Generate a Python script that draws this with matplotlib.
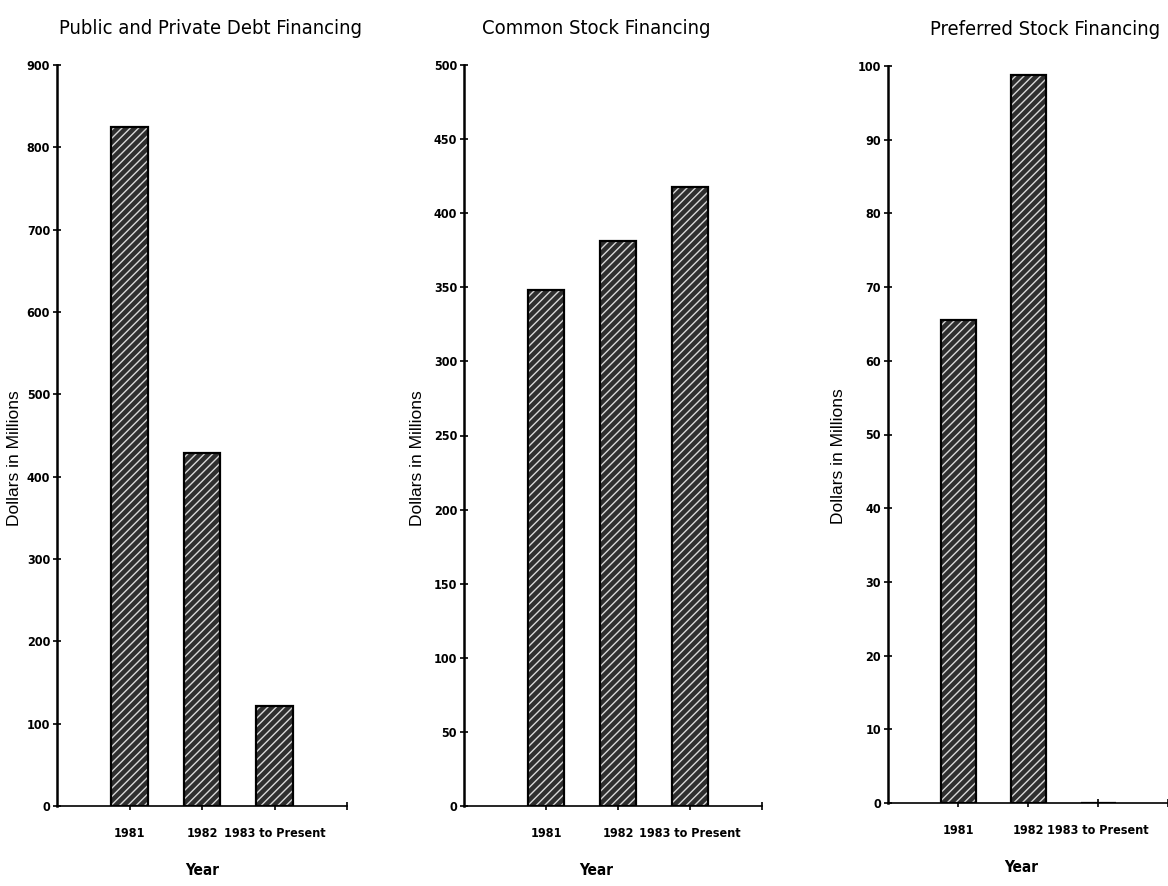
import matplotlib
matplotlib.use("Agg")
import matplotlib.pyplot as plt
from matplotlib import font_manager as fm

plt.rcParams["hatch.linewidth"] = 1.0
plt.rcParams["hatch.color"] = "#d8d8d8"

years = ["1981", "1982", "1983 to Present"]
debt = [825, 429, 122]
common = [348, 381, 418]
preferred = [65.5, 98.8, 0]

titles = ["Public and Private Debt Financing", "Common Stock Financing",
          "Preferred Stock Financing"]
series = [debt, common, preferred]
ymax = [900, 500, 100]
ystep = [100, 50, 10]

# look for a condensed face among the installed fonts
narrow_name = None
for f in fm.fontManager.ttflist:
    n = f.fname.lower()
    if ("condensed" in n or "narrow" in n) and "bold" not in n and "oblique" not in n \
            and "italic" not in n:
        narrow_name = f.name
        narrow_stretch = f.stretch
        break
if narrow_name is None:
    narrow_name, narrow_stretch = "DejaVu Sans", "normal"
narrow = dict(family=narrow_name, stretch=narrow_stretch)

fig = plt.figure(figsize=(11.68, 8.86), dpi=100)

# axes boxes in pixels: left, right, bottom(0), top(max)
boxes = [(57, 347, 806, 65), (464, 762, 806, 65), (888, 1168, 803, 66)]
xlims = [(0, 4), (-0.14, 4), (0, 3.89)]
title_x = [0.53, 0.445, 0.56]
xlabel_x = [0.5, 0.445, 0.475]
ylabel_x = [-0.12, -0.13, -0.15]

for i, (l, r, b, t) in enumerate(boxes):
    ax = fig.add_axes([l / 1168, 1 - b / 886, (r - l) / 1168, (b - t) / 886])
    pos = [1, 2, 3]
    ax.bar(pos, series[i], width=0.5, color="#2e2e2e", edgecolor="#d8d8d8",
           hatch="////", linewidth=0, zorder=2)
    ax.bar(pos, series[i], width=0.5, color="none", edgecolor="black",
           linewidth=1.6, zorder=3)
    ax.set_xlim(*xlims[i])
    ax.set_ylim(0, ymax[i])
    ax.set_yticks(range(0, ymax[i] + 1, ystep[i]))
    ax.set_xticks([1, 2, 3, 4])
    ax.set_xticklabels(years + [""])
    for s in ["top", "right"]:
        ax.spines[s].set_visible(False)
    ax.spines["left"].set_linewidth(1.8)
    ax.spines["bottom"].set_linewidth(1.2)
    ax.tick_params(direction="inout", length=6, width=1.2, pad=2)
    ax.tick_params(axis="x", pad=12)
    for lab in ax.get_xticklabels() + ax.get_yticklabels():
        lab.set_family(narrow_name)
        lab.set_stretch("condensed")
        lab.set_fontweight("bold")
        lab.set_fontsize(9)
    ax.set_title(titles[i], fontsize=14.5, x=title_x[i], pad=22, **narrow)
    ax.set_xlabel("Year", fontweight="bold", fontsize=11, **narrow)
    ax.xaxis.set_label_coords(xlabel_x[i], -0.077)
    ax.set_ylabel("Dollars in Millions", family="Liberation Sans", fontsize=12.5)
    ax.yaxis.set_label_coords(ylabel_x[i], 0.47)

fig.savefig("out.png", dpi=100)
